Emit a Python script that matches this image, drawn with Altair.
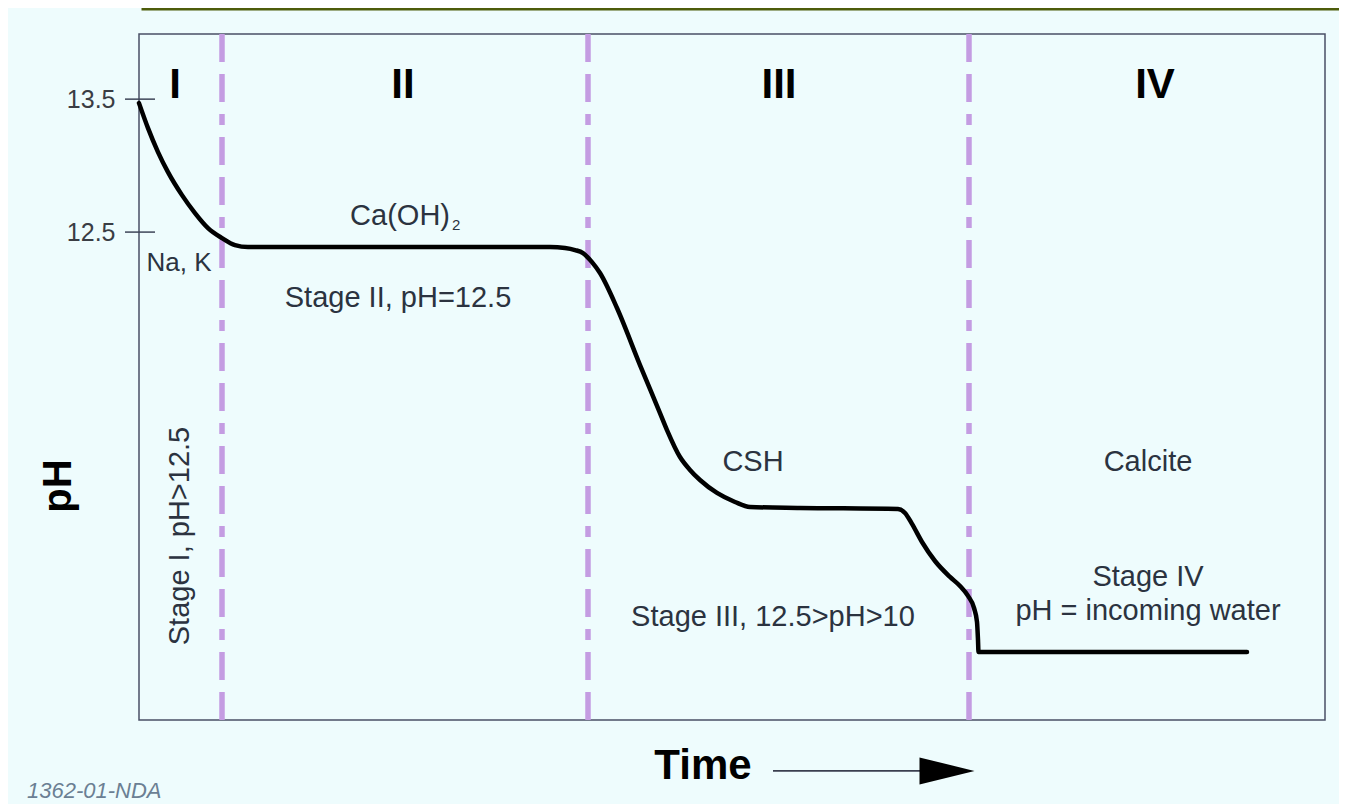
import altair as alt
import pandas as pd

# ---- data (time in arbitrary units, pH) ----
time = [0, 9, 19, 29, 43, 56, 69, 83, 96, 109, 261, 411, 426, 436, 444, 453, 461,
        478, 501, 521, 528, 541, 551, 561, 578, 596, 611, 661, 759, 766, 773,
        783, 796, 811, 821, 829, 835, 838, 839, 839.5, 1108]
ph = [13.470, 13.282, 13.102, 12.951, 12.778, 12.643, 12.530, 12.455, 12.402,
      12.387, 12.387, 12.387, 12.380, 12.365, 12.342, 12.274, 12.192, 11.929,
      11.500, 11.139, 11.011, 10.808, 10.711, 10.635, 10.538, 10.470, 10.432,
      10.425, 10.417, 10.387, 10.305, 10.169, 10.026, 9.906, 9.838, 9.763,
      9.673, 9.568, 9.432, 9.342, 9.342]

stage_bounds = [83, 449, 830]
tick_values = [12.5, 13.5]

numeral_labels = ["I", "II", "III", "IV"]
numeral_t = [36, 264, 640, 1016]
numeral_ph = [13.61, 13.61, 13.61, 13.61]

note_labels = ["Stage II, pH=12.5", "CSH", "Calcite", "Stage III, 12.5>pH>10",
               "Stage IV", "pH = incoming water"]
note_t = [259, 614, 1009, 634, 1009, 1009]
note_ph = [12.004, 10.771, 10.774, 9.605, 9.906, 9.650]

ion_label = ["Na, K"]
ion_t = [40]
ion_ph = [12.267]

caoh_label = ["Ca(OH)"]
caoh_t = [311]
caoh_ph = [12.620]
sub_label = ["2"]
sub_t = [313]
sub_ph = [12.555]

stage1_label = ["Stage I, pH>12.5"]
stage1_t = [41]
stage1_ph = [10.214]

ytitle_label = ["pH"]
ytitle_t = [-80]
ytitle_ph = [10.59]

xtitle_label = ["Time"]
xtitle_t = [564]
xtitle_ph = [8.485]

arrow_t = [634]
arrow_t2 = [790]
arrow_ph = [8.447]
head_t = [808]

footnote_label = ["1362-01-NDA"]
footnote_t = [-112]
footnote_ph = [8.244]

# ---- scales ----
XS = alt.Scale(domain=[0, 1186], nice=False, zero=False)
YS = alt.Scale(domain=[8.83, 13.99], nice=False, zero=False)
X = alt.X("t:Q", scale=XS, axis=None)
Y = alt.Y("ph:Q", scale=YS, title=None,
          axis=alt.Axis(values=tick_values, format=".1f", ticks=False, domain=False,
                        grid=False, labelFontSize=25, labelColor="#3a3d44",
                        labelPadding=24, labelFont="Liberation Sans"))

FONT = "Liberation Sans"
TXT = "#2b3340"

curve_df = pd.DataFrame({"t": time, "ph": ph, "i": list(range(len(time)))})
curve = alt.Chart(curve_df).mark_line(
    color="black", strokeWidth=4.5, strokeJoin="round", strokeCap="round",
    interpolate="monotone"
).encode(x=X, y=Y, order="i:Q")

rules = alt.Chart(pd.DataFrame({"t": stage_bounds})).mark_rule(
    color="#c49ce2", strokeWidth=5.5, strokeDash=[28, 12, 28, 12, 11, 12]
).encode(x=X)

ticks = alt.Chart(pd.DataFrame({"ph": tick_values})).mark_rule(
    color="#3e4558", strokeWidth=1.5
).encode(y=Y, x=alt.value(-14), x2=alt.value(16))


def text_layer(labels, ts, phs, size, bold=False, angle=0, align="center",
               baseline="middle", color=TXT, italic=False):
    df = pd.DataFrame({"label": labels, "t": ts, "ph": phs})
    kw = dict(font=FONT, fontSize=size, align=align, baseline=baseline, color=color)
    if bold:
        kw["fontWeight"] = "bold"
    if angle:
        kw["angle"] = angle
    if italic:
        kw["fontStyle"] = "italic"
    return alt.Chart(df).mark_text(**kw).encode(x=X, y=Y, text="label:N")


numerals = text_layer(numeral_labels, numeral_t, numeral_ph, 42, bold=True, color="black")
notes = text_layer(note_labels, note_t, note_ph, 29)
ions = text_layer(ion_label, ion_t, ion_ph, 26)
caoh = text_layer(caoh_label, caoh_t, caoh_ph, 29, align="right")
sub = text_layer(sub_label, sub_t, sub_ph, 15, align="left")
stage1 = text_layer(stage1_label, stage1_t, stage1_ph, 29, angle=270)
ytitle = text_layer(ytitle_label, ytitle_t, ytitle_ph, 40, bold=True, angle=270, color="black")
xtitle = text_layer(xtitle_label, xtitle_t, xtitle_ph, 42, bold=True, color="black")
footnote = text_layer(footnote_label, footnote_t, footnote_ph, 22, align="left",
                      baseline="alphabetic", color="#6b7f93", italic=True)

arrow_line = alt.Chart(pd.DataFrame({"t": arrow_t, "t2": arrow_t2, "ph": arrow_ph})).mark_rule(
    color="#3a3f4f", strokeWidth=1.8
).encode(x=X, x2="t2:Q", y=Y)

arrow_head = alt.Chart(pd.DataFrame({"t": head_t, "ph": arrow_ph})).mark_point(
    shape="M-1,-0.49L1,0L-1,0.49Z", filled=True, size=3025, color="black", opacity=1
).encode(x=X, y=Y)

top_box = alt.Chart(pd.DataFrame({"a": [0]})).mark_rect(
    fill="#00ffff", stroke="#4d5c0b", strokeWidth=3
).encode(x=alt.value(4), x2=alt.value(1260), y=alt.value(-50), y2=alt.value(-25))

chart = alt.layer(
    top_box, rules, curve, ticks, numerals, notes, ions, caoh, sub, stage1,
    ytitle, xtitle, footnote, arrow_line, arrow_head
).properties(
    width=1186, height=686,
    autosize=alt.AutoSizeParams(type="none"),
    padding={"left": 131, "top": 26, "right": 14, "bottom": 84},
    background="#eefcfd",
).configure_view(
    stroke="#4a4f66", strokeWidth=1.5, fill="#eefcfd"
)

chart.save("out.html", embed_options={"renderer": "svg", "actions": False})
